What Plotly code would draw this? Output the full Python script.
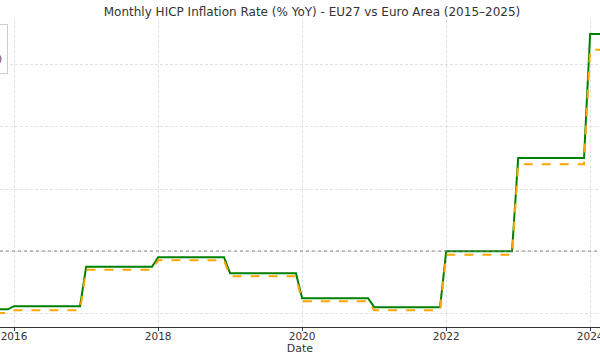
import plotly.graph_objects as go

years = [2015, 2016, 2017, 2018, 2019, 2020, 2021, 2022, 2023, 2024]
eu27_annual = [0.12, 0.22, 1.49, 1.80, 1.28, 0.48, 0.19, 1.99, 5.00, 9.00]
ea_annual = [0.00, 0.09, 1.40, 1.70, 1.19, 0.38, 0.09, 1.88, 4.80, 8.49]
target = 2.0

months = list(range(1, 13))
dates = [f"{y}-{m:02d}-01" for y in years for m in months]
eu27 = [v for v in eu27_annual for _ in months]
ea = [v for v in ea_annual for _ in months]

fig = go.Figure()
fig.add_trace(go.Scatter(x=dates, y=eu27, mode="lines", name="EU27 (27 countries)",
                         line=dict(color="#008000", width=2)))
fig.add_trace(go.Scatter(x=dates, y=ea, mode="lines", name="Euro Area (20 countries)",
                         line=dict(color="#FFA500", width=2, dash="dash")))
fig.add_hline(y=target, line=dict(color="#888888", width=1, dash="dot"))

fig.update_layout(
    width=600, height=360,
    margin=dict(l=0, r=0, t=20, b=33, autoexpand=False),
    paper_bgcolor="white", plot_bgcolor="white",
    font=dict(family="DejaVu Sans", color="#333333", size=11),
    title=dict(text="Monthly HICP Inflation Rate (% YoY) - EU27 vs Euro Area (2015–2025)",
               x=0.52, xanchor="center", y=0.966, yanchor="middle",
               font=dict(size=12, color="#333333")),
    showlegend=True,
    legend=dict(x=8/600, xanchor="right", y=0.987, yanchor="top",
                bordercolor="#cccccc", borderwidth=1, bgcolor="rgba(255,255,255,0.9)",
                font=dict(size=9, color="#333333"), tracegroupgap=0),
    xaxis=dict(type="date", range=["2015-10-22", "2024-02-20"],
               tickvals=["2016-01-01", "2018-01-01", "2020-01-01", "2022-01-01", "2024-01-01"],
               ticktext=["2016", "2018", "2020", "2022", "2024"],
               ticklabeloverflow="allow", ticklabelstandoff=-4,
               showgrid=True, gridcolor="#e2e2e2", gridwidth=0.8, griddash="3px,2px",
               showline=True, linecolor="#333333", linewidth=1.2,
               ticks="outside", ticklen=3, tickcolor="#333333",
               title=dict(text="Date", font=dict(size=11), standoff=0),
               tickfont=dict(size=10.5), zeroline=False),
    yaxis=dict(range=[-0.45, 9.45], tickvals=[0, 2, 4, 6, 8],
               showticklabels=False, showgrid=True, gridcolor="#e2e2e2",
               gridwidth=0.8, griddash="3px,2px", zeroline=False, showline=False),
)

fig.write_html("out.html", config={"displayModeBar": False},
               post_script="document.body.style.margin='0';document.body.style.overflow='hidden';")
